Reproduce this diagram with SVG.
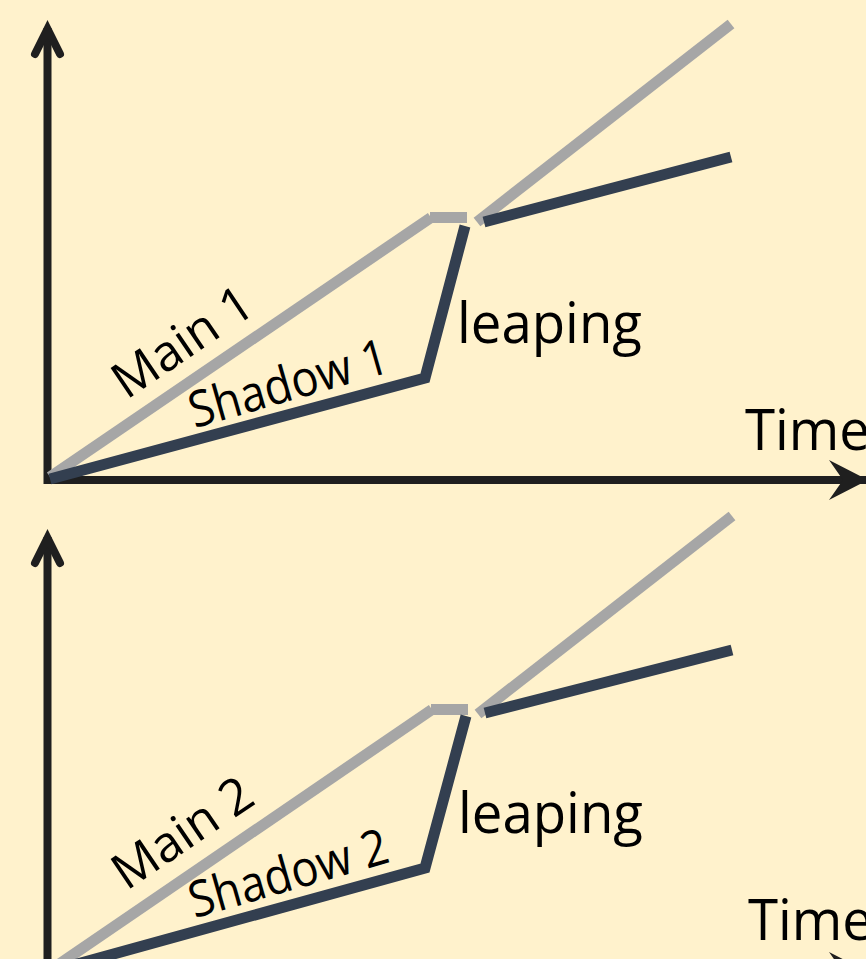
<svg xmlns="http://www.w3.org/2000/svg" width="866" height="959" viewBox="0 0 866 959">
<style>
.axis{stroke:#1F1F1F;stroke-width:8;fill:none;stroke-linejoin:miter}
.chev{stroke:#1F1F1F;stroke-width:8;fill:none;stroke-linecap:round;stroke-linejoin:miter}
.main{stroke:#A6A6A6;stroke-width:11;fill:none;stroke-linecap:butt}
.shadow{stroke:#333F50;stroke-width:11;fill:none;stroke-linecap:butt;stroke-linejoin:miter}
.lbl{font-family:"Open Sans","Noto Sans",sans-serif;fill:#000}
.rot{font-size:50px}
.big{font-size:56px}
</style>
<rect width="866" height="959" fill="#FFF2CC"/>
<g id="axes1">
<polyline class="axis" points="47.5,28 47.5,480 866,480"/>
<polyline class="chev" points="35,54 47.5,29 60,54"/>
<path d="M868,480 L829,460 L843,480 L829,500 Z" fill="#1F1F1F"/>
</g>
<g id="axes2">
<polyline class="axis" points="47.5,537 47.5,972 866,972"/>
<polyline class="chev" points="35,563 47.5,538 60,563"/>
<path d="M868,972 L829,952 L843,972 L829,992 Z" fill="#1F1F1F"/>
</g>
<g id="connectors">
<line class="main" x1="50" y1="477" x2="431" y2="217.5"/>
<line class="main" x1="430" y1="217.5" x2="467" y2="217.5"/>
<line class="main" x1="477" y1="222" x2="731" y2="24"/>
<polyline class="shadow" points="50,479 425,378 465,226"/>
<line class="shadow" x1="484" y1="222" x2="731" y2="157"/>
<line class="main" x1="52" y1="969" x2="432" y2="709.5"/>
<line class="main" x1="431" y1="709.5" x2="468" y2="709.5"/>
<line class="main" x1="478" y1="714" x2="732" y2="516"/>
<polyline class="shadow" points="52,971 425,868 466,716"/>
<line class="shadow" x1="485" y1="713" x2="732" y2="650"/>
</g>
<g id="label-main1"><text class="lbl rot" transform="translate(192,356) rotate(-34)" text-anchor="middle" textLength="158" lengthAdjust="spacingAndGlyphs">Main 1</text></g>
<g id="label-shadow1"><text class="lbl rot" transform="translate(293,400) rotate(-16)" text-anchor="middle" textLength="205" lengthAdjust="spacingAndGlyphs">Shadow 1</text></g>
<g id="label-leaping1"><text class="lbl big" x="457" y="343" textLength="185" lengthAdjust="spacingAndGlyphs">leaping</text></g>
<g id="label-time1"><text class="lbl big" x="745" y="450" textLength="125" lengthAdjust="spacingAndGlyphs">Time</text></g>
<g id="label-main2"><text class="lbl rot" transform="translate(192,847) rotate(-34)" text-anchor="middle" textLength="158" lengthAdjust="spacingAndGlyphs">Main 2</text></g>
<g id="label-shadow2"><text class="lbl rot" transform="translate(293,890) rotate(-16)" text-anchor="middle" textLength="205" lengthAdjust="spacingAndGlyphs">Shadow 2</text></g>
<g id="label-leaping2"><text class="lbl big" x="458" y="833" textLength="185" lengthAdjust="spacingAndGlyphs">leaping</text></g>
<g id="label-time2"><text class="lbl big" x="748" y="940" textLength="125" lengthAdjust="spacingAndGlyphs">Time</text></g>
</svg>
